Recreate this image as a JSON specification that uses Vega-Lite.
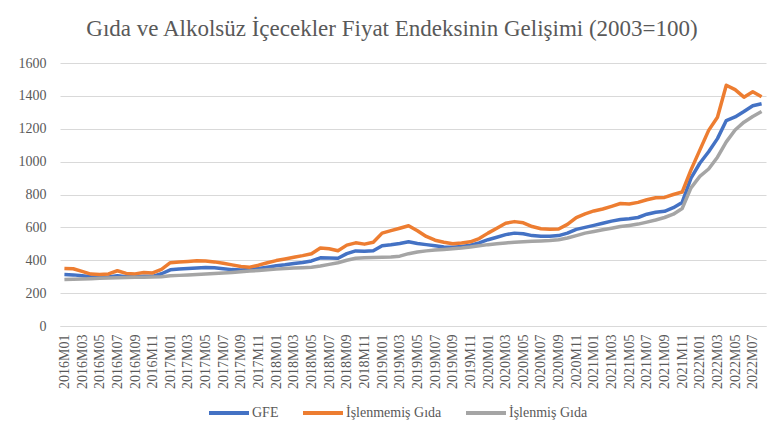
{
  "$schema": "https://vega.github.io/schema/vega-lite/v6.json",
  "width": 706,
  "height": 263,
  "autosize": {"type": "none"},
  "padding": {"left": 60, "top": 63, "right": 12, "bottom": 115},
  "background": "white",
  "title": {
    "text": "Gıda ve Alkolsüz İçecekler Fiyat Endeksinin Gelişimi (2003=100)",
    "anchor": "middle",
    "frame": "bounds",
    "offset": -3,
    "baseline": "alphabetic",
    "font": "Liberation Serif",
    "fontSize": 23,
    "fontWeight": "normal",
    "color": "#595959"
  },
  "data": {
    "values": [
      {"ay": "2016M01", "GFE": 313, "İşlenmemiş Gıda": 350, "İşlenmiş Gıda": 283},
      {"ay": "2016M02", "GFE": 311, "İşlenmemiş Gıda": 348, "İşlenmiş Gıda": 285},
      {"ay": "2016M03", "GFE": 306, "İşlenmemiş Gıda": 332, "İşlenmiş Gıda": 286},
      {"ay": "2016M04", "GFE": 300, "İşlenmemiş Gıda": 316, "İşlenmiş Gıda": 288},
      {"ay": "2016M05", "GFE": 297, "İşlenmemiş Gıda": 313, "İşlenmiş Gıda": 290},
      {"ay": "2016M06", "GFE": 298, "İşlenmemiş Gıda": 317, "İşlenmiş Gıda": 292},
      {"ay": "2016M07", "GFE": 306, "İşlenmemiş Gıda": 336, "İşlenmiş Gıda": 294},
      {"ay": "2016M08", "GFE": 300, "İşlenmemiş Gıda": 320, "İşlenmiş Gıda": 295},
      {"ay": "2016M09", "GFE": 299, "İşlenmemiş Gıda": 317, "İşlenmiş Gıda": 296},
      {"ay": "2016M10", "GFE": 302, "İşlenmemiş Gıda": 325, "İşlenmiş Gıda": 297},
      {"ay": "2016M11", "GFE": 302, "İşlenmemiş Gıda": 323, "İşlenmiş Gıda": 298},
      {"ay": "2016M12", "GFE": 318, "İşlenmemiş Gıda": 345, "İşlenmiş Gıda": 300},
      {"ay": "2017M01", "GFE": 342, "İşlenmemiş Gıda": 385, "İşlenmiş Gıda": 305},
      {"ay": "2017M02", "GFE": 347, "İşlenmemiş Gıda": 390, "İşlenmiş Gıda": 308},
      {"ay": "2017M03", "GFE": 350, "İşlenmemiş Gıda": 393, "İşlenmiş Gıda": 311},
      {"ay": "2017M04", "GFE": 353, "İşlenmemiş Gıda": 397, "İşlenmiş Gıda": 314},
      {"ay": "2017M05", "GFE": 356, "İşlenmemiş Gıda": 396, "İşlenmiş Gıda": 317},
      {"ay": "2017M06", "GFE": 354, "İşlenmemiş Gıda": 390, "İşlenmiş Gıda": 320},
      {"ay": "2017M07", "GFE": 349, "İşlenmemiş Gıda": 382, "İşlenmiş Gıda": 323},
      {"ay": "2017M08", "GFE": 343, "İşlenmemiş Gıda": 372, "İşlenmiş Gıda": 326},
      {"ay": "2017M09", "GFE": 340, "İşlenmemiş Gıda": 362, "İşlenmiş Gıda": 330},
      {"ay": "2017M10", "GFE": 343, "İşlenmemiş Gıda": 358, "İşlenmiş Gıda": 334},
      {"ay": "2017M11", "GFE": 350, "İşlenmemiş Gıda": 370, "İşlenmiş Gıda": 338},
      {"ay": "2017M12", "GFE": 358, "İşlenmemiş Gıda": 385, "İşlenmiş Gıda": 342},
      {"ay": "2018M01", "GFE": 366, "İşlenmemiş Gıda": 398, "İşlenmiş Gıda": 346},
      {"ay": "2018M02", "GFE": 372, "İşlenmemiş Gıda": 408, "İşlenmiş Gıda": 350},
      {"ay": "2018M03", "GFE": 380, "İşlenmemiş Gıda": 418, "İşlenmiş Gıda": 353},
      {"ay": "2018M04", "GFE": 386, "İşlenmemiş Gıda": 428, "İşlenmiş Gıda": 355},
      {"ay": "2018M05", "GFE": 396, "İşlenmemiş Gıda": 440, "İşlenmiş Gıda": 358},
      {"ay": "2018M06", "GFE": 415, "İşlenmemiş Gıda": 475, "İşlenmiş Gıda": 365},
      {"ay": "2018M07", "GFE": 413, "İşlenmemiş Gıda": 470, "İşlenmiş Gıda": 375},
      {"ay": "2018M08", "GFE": 412, "İşlenmemiş Gıda": 458, "İşlenmiş Gıda": 385},
      {"ay": "2018M09", "GFE": 440, "İşlenmemiş Gıda": 492, "İşlenmiş Gıda": 400},
      {"ay": "2018M10", "GFE": 457, "İşlenmemiş Gıda": 506, "İşlenmiş Gıda": 412},
      {"ay": "2018M11", "GFE": 455, "İşlenmemiş Gıda": 498, "İşlenmiş Gıda": 415},
      {"ay": "2018M12", "GFE": 458, "İşlenmemiş Gıda": 510, "İşlenmiş Gıda": 417},
      {"ay": "2019M01", "GFE": 488, "İşlenmemiş Gıda": 565, "İşlenmiş Gıda": 418},
      {"ay": "2019M02", "GFE": 494, "İşlenmemiş Gıda": 580, "İşlenmiş Gıda": 420},
      {"ay": "2019M03", "GFE": 502, "İşlenmemiş Gıda": 595, "İşlenmiş Gıda": 425},
      {"ay": "2019M04", "GFE": 512, "İşlenmemiş Gıda": 610, "İşlenmiş Gıda": 440},
      {"ay": "2019M05", "GFE": 502, "İşlenmemiş Gıda": 580, "İşlenmiş Gıda": 450},
      {"ay": "2019M06", "GFE": 495, "İşlenmemiş Gıda": 545, "İşlenmiş Gıda": 457},
      {"ay": "2019M07", "GFE": 488, "İşlenmemiş Gıda": 522, "İşlenmiş Gıda": 462},
      {"ay": "2019M08", "GFE": 481, "İşlenmemiş Gıda": 510, "İşlenmiş Gıda": 466},
      {"ay": "2019M09", "GFE": 479, "İşlenmemiş Gıda": 500, "İşlenmiş Gıda": 470},
      {"ay": "2019M10", "GFE": 484, "İşlenmemiş Gıda": 505, "İşlenmiş Gıda": 474},
      {"ay": "2019M11", "GFE": 492, "İşlenmemiş Gıda": 512, "İşlenmiş Gıda": 480},
      {"ay": "2019M12", "GFE": 506, "İşlenmemiş Gıda": 532, "İşlenmiş Gıda": 488},
      {"ay": "2020M01", "GFE": 525, "İşlenmemiş Gıda": 565, "İşlenmiş Gıda": 495},
      {"ay": "2020M02", "GFE": 540, "İşlenmemiş Gıda": 595, "İşlenmiş Gıda": 500},
      {"ay": "2020M03", "GFE": 556, "İşlenmemiş Gıda": 625, "İşlenmiş Gıda": 505},
      {"ay": "2020M04", "GFE": 565, "İşlenmemiş Gıda": 635, "İşlenmiş Gıda": 510},
      {"ay": "2020M05", "GFE": 561, "İşlenmemiş Gıda": 628, "İşlenmiş Gıda": 512},
      {"ay": "2020M06", "GFE": 550, "İşlenmemiş Gıda": 605, "İşlenmiş Gıda": 515},
      {"ay": "2020M07", "GFE": 546, "İşlenmemiş Gıda": 592, "İşlenmiş Gıda": 517},
      {"ay": "2020M08", "GFE": 546, "İşlenmemiş Gıda": 588, "İşlenmiş Gıda": 520},
      {"ay": "2020M09", "GFE": 550, "İşlenmemiş Gıda": 590, "İşlenmiş Gıda": 525},
      {"ay": "2020M10", "GFE": 565, "İşlenmemiş Gıda": 618, "İşlenmiş Gıda": 535},
      {"ay": "2020M11", "GFE": 588, "İşlenmemiş Gıda": 660, "İşlenmiş Gıda": 550},
      {"ay": "2020M12", "GFE": 600, "İşlenmemiş Gıda": 682, "İşlenmiş Gıda": 565},
      {"ay": "2021M01", "GFE": 612, "İşlenmemiş Gıda": 700, "İşlenmiş Gıda": 575},
      {"ay": "2021M02", "GFE": 625, "İşlenmemiş Gıda": 712, "İşlenmiş Gıda": 585},
      {"ay": "2021M03", "GFE": 638, "İşlenmemiş Gıda": 728, "İşlenmiş Gıda": 595},
      {"ay": "2021M04", "GFE": 648, "İşlenmemiş Gıda": 745, "İşlenmiş Gıda": 605},
      {"ay": "2021M05", "GFE": 652, "İşlenmemiş Gıda": 742, "İşlenmiş Gıda": 612},
      {"ay": "2021M06", "GFE": 660, "İşlenmemiş Gıda": 752, "İşlenmiş Gıda": 620},
      {"ay": "2021M07", "GFE": 680, "İşlenmemiş Gıda": 768, "İşlenmiş Gıda": 632},
      {"ay": "2021M08", "GFE": 692, "İşlenmemiş Gıda": 780, "İşlenmiş Gıda": 645},
      {"ay": "2021M09", "GFE": 698, "İşlenmemiş Gıda": 782, "İşlenmiş Gıda": 660},
      {"ay": "2021M10", "GFE": 720, "İşlenmemiş Gıda": 800, "İşlenmiş Gıda": 680},
      {"ay": "2021M11", "GFE": 752, "İşlenmemiş Gıda": 815, "İşlenmiş Gıda": 715},
      {"ay": "2021M12", "GFE": 900, "İşlenmemiş Gıda": 950, "İşlenmiş Gıda": 840},
      {"ay": "2022M01", "GFE": 990, "İşlenmemiş Gıda": 1070, "İşlenmiş Gıda": 910},
      {"ay": "2022M02", "GFE": 1060, "İşlenmemiş Gıda": 1190, "İşlenmiş Gıda": 955},
      {"ay": "2022M03", "GFE": 1140, "İşlenmemiş Gıda": 1270, "İşlenmiş Gıda": 1027},
      {"ay": "2022M04", "GFE": 1250, "İşlenmemiş Gıda": 1465, "İşlenmiş Gıda": 1120},
      {"ay": "2022M05", "GFE": 1272, "İşlenmemiş Gıda": 1438, "İşlenmiş Gıda": 1192},
      {"ay": "2022M06", "GFE": 1305, "İşlenmemiş Gıda": 1392, "İşlenmiş Gıda": 1240},
      {"ay": "2022M07", "GFE": 1340, "İşlenmemiş Gıda": 1425, "İşlenmiş Gıda": 1275},
      {"ay": "2022M08", "GFE": 1352, "İşlenmemiş Gıda": 1395, "İşlenmiş Gıda": 1305}
    ]
  },
  "transform": [
    {"fold": ["GFE", "İşlenmemiş Gıda", "İşlenmiş Gıda"], "as": ["seri", "deger"]}
  ],
  "mark": {"type": "line", "strokeWidth": 3.5, "strokeJoin": "round"},
  "encoding": {
    "x": {
      "field": "ay",
      "type": "ordinal",
      "sort": null,
      "scale": {"type": "point", "padding": 0.5},
      "axis": {
        "title": null,
        "values": ["2016M01","2016M03","2016M05","2016M07","2016M09","2016M11","2017M01","2017M03","2017M05","2017M07","2017M09","2017M11","2018M01","2018M03","2018M05","2018M07","2018M09","2018M11","2019M01","2019M03","2019M05","2019M07","2019M09","2019M11","2020M01","2020M03","2020M05","2020M07","2020M09","2020M11","2021M01","2021M03","2021M05","2021M07","2021M09","2021M11","2022M01","2022M03","2022M05","2022M07"],
        "labelAngle": -90,
        "labelFont": "Liberation Serif",
        "labelFontSize": 14,
        "labelColor": "#595959",
        "labelPadding": 8,
        "ticks": false,
        "grid": false,
        "domainColor": "#d9d9d9",
        "domainWidth": 1
      }
    },
    "y": {
      "field": "deger",
      "type": "quantitative",
      "scale": {"domain": [0, 1600]},
      "axis": {
        "title": null,
        "values": [0, 200, 400, 600, 800, 1000, 1200, 1400, 1600],
        "format": "d",
        "labelFont": "Liberation Serif",
        "labelFontSize": 14,
        "labelColor": "#595959",
        "labelPadding": 14,
        "ticks": false,
        "domain": false,
        "grid": true,
        "gridColor": "#d9d9d9",
        "gridWidth": 1
      }
    },
    "color": {
      "field": "seri",
      "type": "nominal",
      "scale": {
        "domain": ["GFE", "İşlenmemiş Gıda", "İşlenmiş Gıda"],
        "range": ["#4472C4", "#ED7D31", "#A5A5A5"]
      },
      "legend": {
        "title": null,
        "orient": "none",
        "legendX": 147,
        "legendY": 328,
        "direction": "horizontal",
        "symbolType": "stroke",
        "symbolSize": 1600,
        "symbolStrokeWidth": 4,
        "labelFont": "Liberation Serif",
        "labelFontSize": 14,
        "labelColor": "#595959",
        "labelOffset": 1,
        "columnPadding": 16
      }
    }
  },
  "config": {"view": {"stroke": null}, "axis": {"labelFont": "Liberation Serif"}}
}
